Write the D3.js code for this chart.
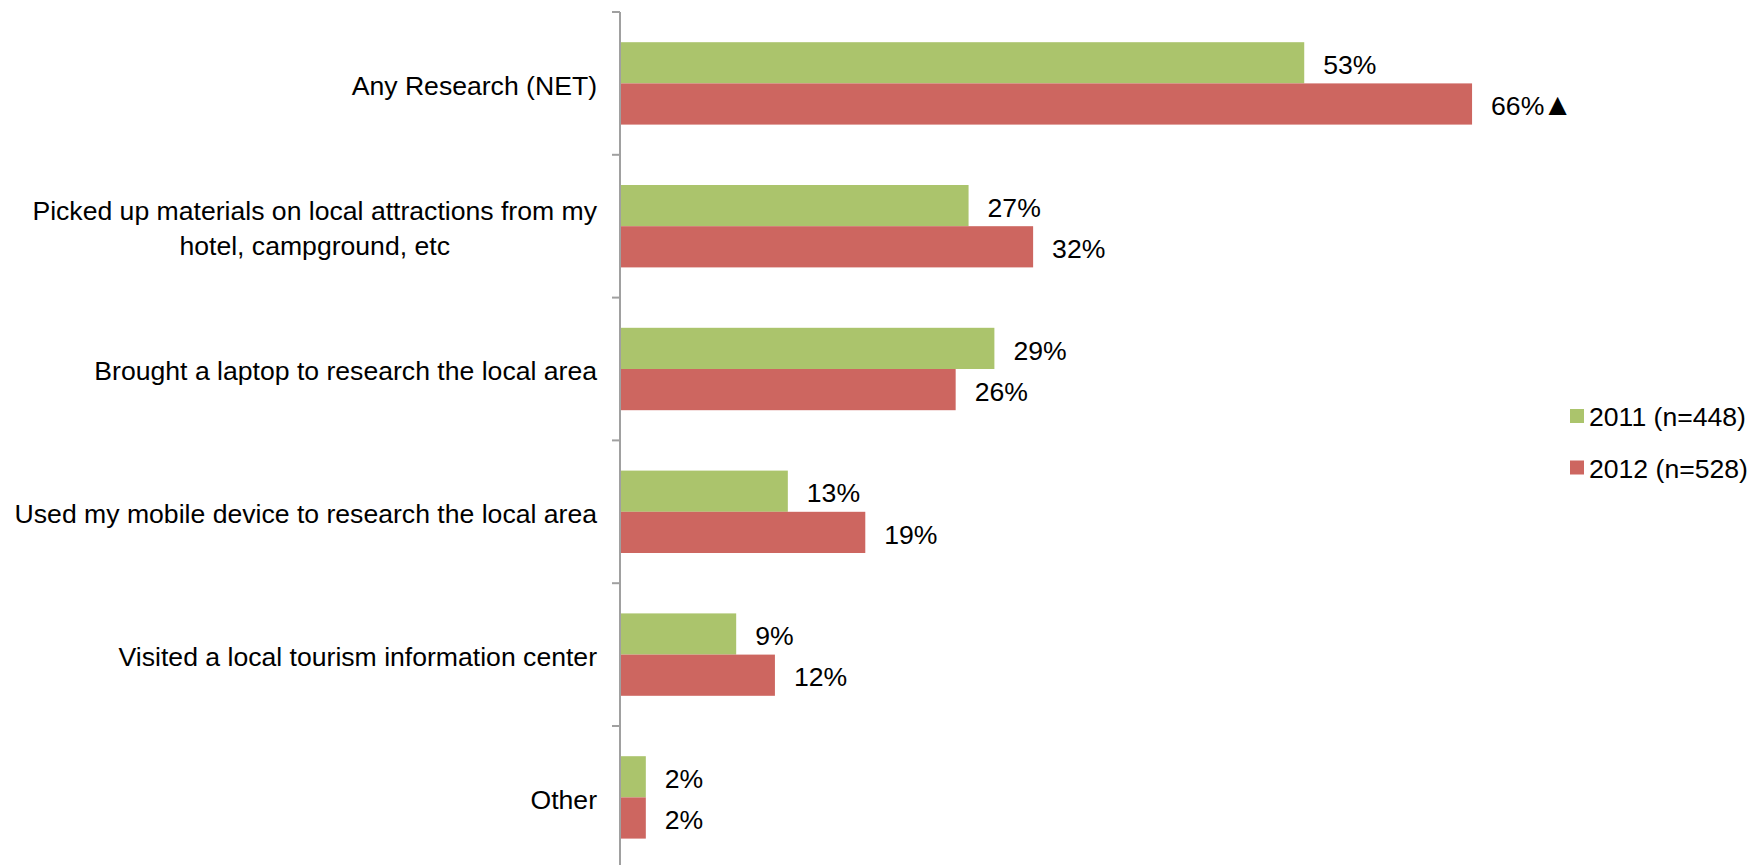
<!DOCTYPE html>
<html>
<head>
<meta charset="utf-8">
<script src="https://cdn.jsdelivr.net/npm/d3@7"></script>
<style>
  html, body { margin: 0; padding: 0; background: #fff; }
  svg { display: block; font-family: "Liberation Sans", Arial, sans-serif; }
</style>
</head>
<body>
<svg id="chart" width="1764" height="865"></svg>
<script>
// Categories (line breaks mark the wrapped label lines)
const categories = [
  "Any Research (NET)",
  "Picked up materials on local attractions from my\nhotel, campground, etc",
  "Brought a laptop to research the local area",
  "Used my mobile device to research the local area",
  "Visited a local tourism information center",
  "Other"
];
const seriesNames = ["2011 (n=448)", "2012 (n=528)"];
const values2011 = [53, 27, 29, 13, 9, 2];
const values2012 = [66, 32, 26, 19, 12, 2];
// Significance marker appended to value labels
const marks2011 = ["", "", "", "", "", ""];
const marks2012 = ["▲", "", "", "", "", ""];
const colors = ["#abc46c", "#cd6660"];

const svg = d3.select("#chart");
const fontSize = 26.6;
const axisX = 620;
const plotTop = 12, plotBottom = 868.8;
const gap = 0.423;

const x = d3.scaleLinear().domain([0, 100]).range([axisX, axisX + 1291]);
const y0 = d3.scaleBand().domain(categories).range([plotTop, plotBottom])
  .paddingInner(gap).paddingOuter(gap / 2);
const y1 = d3.scaleBand().domain(seriesNames).range([0, y0.bandwidth()]);
const color = d3.scaleOrdinal().domain(seriesNames).range(colors);

const rows = categories.map((c, i) => ({
  cat: c,
  items: [
    { s: seriesNames[0], v: values2011[i], m: marks2011[i] },
    { s: seriesNames[1], v: values2012[i], m: marks2012[i] }
  ]
}));

// Bars
const groups = svg.append("g").selectAll("g").data(rows).join("g")
  .attr("transform", d => `translate(0,${y0(d.cat)})`);

groups.selectAll("rect").data(d => d.items).join("rect")
  .attr("x", x(0))
  .attr("y", d => y1(d.s))
  .attr("width", d => x(d.v) - x(0))
  .attr("height", y1.bandwidth())
  .attr("fill", d => color(d.s));

// Value labels
const vlabels = groups.selectAll("text").data(d => d.items).join("text")
  .attr("x", d => x(d.v) + 19)
  .attr("y", d => y1(d.s) + y1.bandwidth() / 2)
  .attr("dy", "0.42em")
  .attr("font-size", fontSize)
  .attr("fill", "#000");
vlabels.append("tspan").text(d => d.v + "%");
vlabels.filter(d => d.m).append("tspan")
  .attr("font-size", 31)
  .attr("dx", -2)
  .text(d => d.m);

// Category axis: vertical line with ticks at band boundaries
const axis = svg.append("g");
const outer = y0.step() * y0.paddingOuter();
axis.append("line")
  .attr("x1", axisX).attr("x2", axisX)
  .attr("y1", plotTop).attr("y2", plotBottom)
  .attr("stroke", "#a0a0a0").attr("stroke-width", 2);
const boundaries = categories.map(c => y0(c) - outer).concat([plotBottom]);
axis.selectAll("line.tick").data(boundaries).join("line")
  .attr("class", "tick")
  .attr("x1", axisX - 8).attr("x2", axisX)
  .attr("y1", d => d).attr("y2", d => d)
  .attr("stroke", "#a0a0a0").attr("stroke-width", 2);

// Category labels: block right-aligned to the axis, lines centred within the block
const labelRight = 597;
const lineH = 35;
rows.forEach(r => {
  const lines = r.cat.split("\n");
  const cy = y0(r.cat) + y0.bandwidth() / 2;
  const t = axis.append("text")
    .attr("font-size", fontSize)
    .attr("fill", "#000")
    .attr("text-anchor", "middle");
  const spans = lines.map((ln, i) => t.append("tspan")
    .attr("y", cy + (i - (lines.length - 1) / 2) * lineH)
    .attr("dy", "0.42em")
    .text(ln));
  const w = d3.max(spans, s => s.node().getComputedTextLength());
  spans.forEach(s => s.attr("x", labelRight - w / 2));
});

// Legend
const legend = svg.append("g").selectAll("g").data(seriesNames).join("g")
  .attr("transform", (d, i) => `translate(1570,${416 + i * 51.5})`);
legend.append("rect")
  .attr("x", 0).attr("y", -7).attr("width", 14).attr("height", 14)
  .attr("fill", d => color(d));
legend.append("text")
  .attr("x", 19).attr("y", 0).attr("dy", "0.38em")
  .attr("font-size", fontSize).attr("fill", "#000")
  .text(d => d);
</script>
</body>
</html>
